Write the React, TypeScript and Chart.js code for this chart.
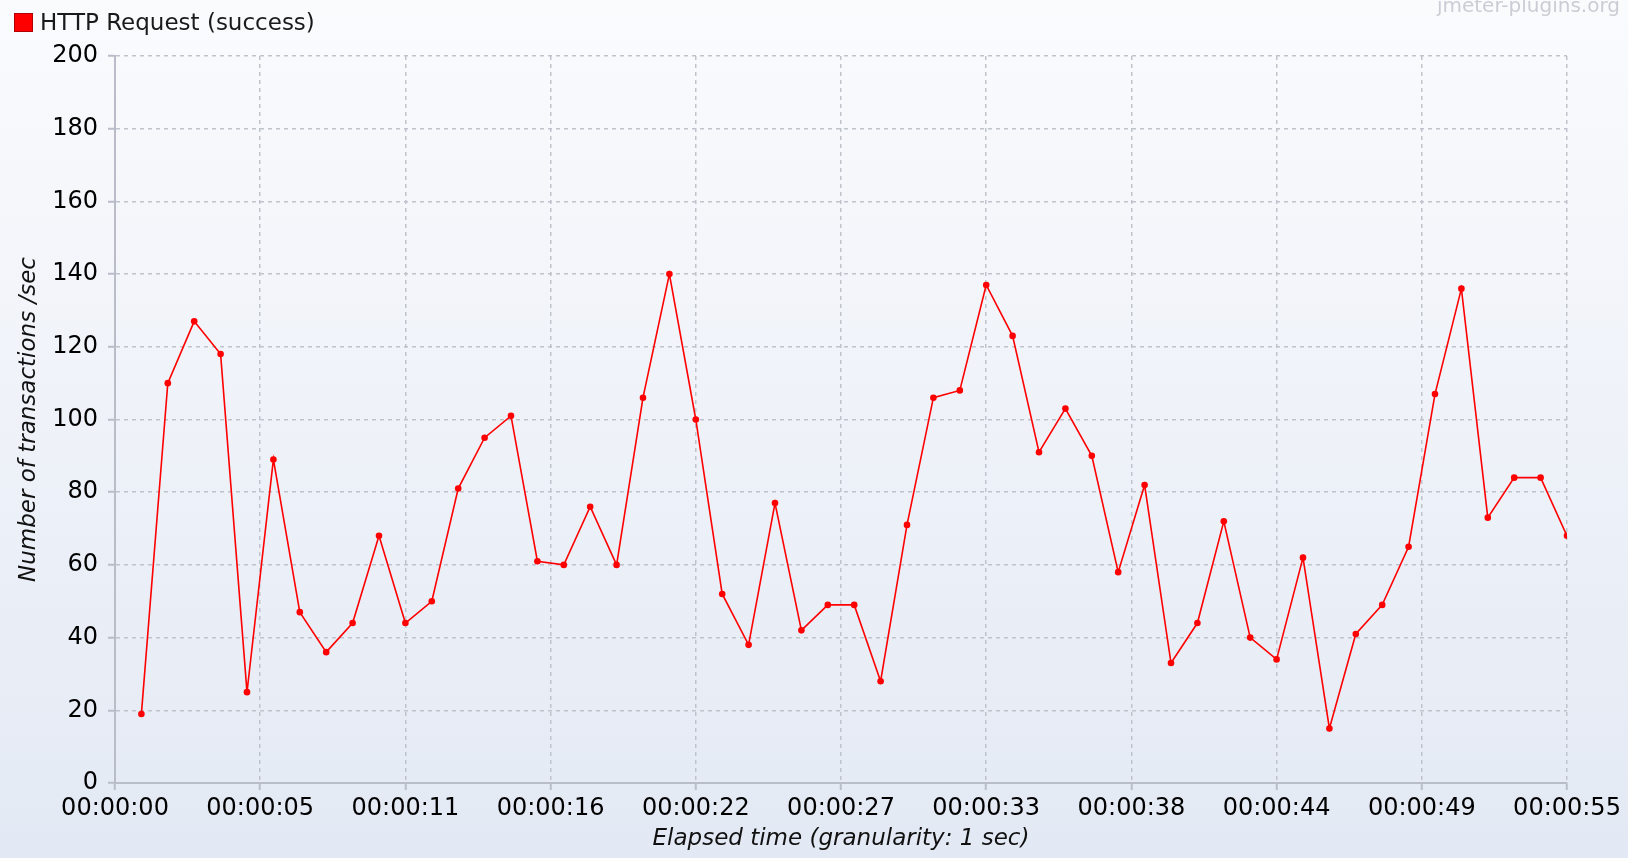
import React, { useEffect, useRef } from 'react';
import { Chart, registerables } from 'chart.js';

Chart.register(...registerables);

const SERIES_LABEL = 'HTTP Request (success)';
const X_TITLE = 'Elapsed time (granularity: 1 sec)';
const Y_TITLE = 'Number of transactions /sec';
const WATERMARK = 'jmeter-plugins.org';

const SECONDS = [
  1, 2, 3, 4, 5, 6, 7, 8, 9, 10, 11, 12, 13, 14, 15, 16, 17, 18, 19, 20,
  21, 22, 23, 24, 25, 26, 27, 28, 29, 30, 31, 32, 33, 34, 35, 36, 37, 38, 39, 40,
  41, 42, 43, 44, 45, 46, 47, 48, 49, 50, 51, 52, 53, 54, 55,
];

const TRANSACTIONS = [
  19, 110, 127, 118, 25, 89, 47, 36, 44, 68, 44, 50, 81, 95, 101, 61, 60, 76, 60, 106,
  140, 100, 52, 38, 77, 42, 49, 49, 28, 71, 106, 108, 137, 123, 91, 103, 90, 58, 82, 33,
  44, 72, 40, 34, 62, 15, 41, 49, 65, 107, 136, 73, 84, 84, 68,
];

const X_TICKS = [0, 5.5, 11, 16.5, 22, 27.5, 33, 38.5, 44, 49.5, 55];
const X_TICK_LABELS = [
  '00:00:00', '00:00:05', '00:00:11', '00:00:16', '00:00:22', '00:00:27',
  '00:00:33', '00:00:38', '00:00:44', '00:00:49', '00:00:55',
];

const FONT = '"DejaVu Sans", "Lucida Grande", sans-serif';
const AXIS_COLOR = '#b9bdc8';
const GRID_COLOR = '#bfc3cb';

export default function App() {
  const ref = useRef<HTMLCanvasElement>(null);

  useEffect(() => {
    const canvas = ref.current;
    if (!canvas) return;

    const bgPlugin = {
      id: 'bgGradient',
      beforeDraw(chart: any) {
        const { ctx, width, height } = chart;
        const g = ctx.createLinearGradient(0, 0, 0, height);
        g.addColorStop(0, '#fafbfd');
        g.addColorStop(1, '#e3e9f4');
        ctx.save();
        ctx.fillStyle = g;
        ctx.fillRect(0, 0, width, height);
        ctx.restore();
      },
    };

    const overlayPlugin = {
      id: 'overlay',
      afterDraw(chart: any) {
        const { ctx } = chart;
        ctx.save();
        // legend
        ctx.fillStyle = '#ff0000';
        ctx.fillRect(14, 13, 19, 19);
        ctx.strokeStyle = '#b00000';
        ctx.lineWidth = 1;
        ctx.strokeRect(14.5, 13.5, 18, 18);
        ctx.fillStyle = '#1a1a1a';
        ctx.font = `23px ${FONT}`;
        ctx.textAlign = 'left';
        ctx.textBaseline = 'alphabetic';
        ctx.fillText(SERIES_LABEL, 40, 30);
        // watermark
        ctx.fillStyle = '#cacdd4';
        ctx.font = `20px ${FONT}`;
        ctx.textAlign = 'right';
        ctx.fillText(WATERMARK, 1620, 12);
        ctx.restore();
      },
    };

    const chart = new Chart(canvas, {
      type: 'line',
      data: {
        datasets: [
          {
            label: SERIES_LABEL,
            data: SECONDS.map((s, i) => ({ x: s, y: TRANSACTIONS[i] })),
            borderColor: '#ff0000',
            backgroundColor: '#ff0000',
            borderWidth: 1.6,
            pointRadius: 3.3,
            pointBorderWidth: 0,
            pointBackgroundColor: '#ff0000',
            tension: 0,
            fill: false,
          },
        ],
      },
      options: {
        responsive: false,
        animation: false,
        layout: { padding: { top: 56, left: 0, right: 61, bottom: 0 } },
        plugins: {
          legend: { display: false },
          tooltip: { enabled: false },
        },
        scales: {
          x: {
            type: 'linear',
            min: 0,
            max: 55,
            afterBuildTicks: (scale: any) => {
              scale.ticks = X_TICKS.map((v) => ({ value: v }));
            },
            afterFit: (scale: any) => {
              scale.height = 75;
            },
            ticks: {
              autoSkip: false,
              maxRotation: 0,
              minRotation: 0,
              color: '#000000',
              font: { family: FONT, size: 24 },
              padding: 4,
              callback: (_v: any, i: number) => X_TICK_LABELS[i],
            },
            grid: {
              color: GRID_COLOR,
              lineWidth: 1.5,
              drawTicks: true,
              tickLength: 7,
              tickColor: AXIS_COLOR,
              tickWidth: 2,
              tickBorderDash: [],
            },
            border: { display: true, color: AXIS_COLOR, width: 2, dash: [4, 4] },
            title: {
              display: true,
              text: X_TITLE,
              color: '#111111',
              font: { family: FONT, size: 23, style: 'italic' },
              padding: { top: 0, bottom: 5 },
            },
          },
          y: {
            type: 'linear',
            min: 0,
            max: 200,
            afterFit: (scale: any) => {
              scale.width = 115;
            },
            ticks: {
              stepSize: 20,
              color: '#000000',
              font: { family: FONT, size: 24 },
              padding: 10,
            },
            grid: {
              color: GRID_COLOR,
              lineWidth: 1.5,
              drawTicks: true,
              tickLength: 7,
              tickColor: AXIS_COLOR,
              tickWidth: 2,
              tickBorderDash: [],
            },
            border: { display: true, color: AXIS_COLOR, width: 2, dash: [4, 4] },
            title: {
              display: true,
              text: Y_TITLE,
              color: '#111111',
              font: { family: FONT, size: 23, style: 'italic' },
              padding: { top: 15, bottom: 0 },
            },
          },
        },
      },
      plugins: [bgPlugin, overlayPlugin],
    } as any);

    return () => chart.destroy();
  }, []);

  return (
    <div style={{ position: 'fixed', left: 0, top: 0, width: 1628, height: 858 }}>
      <canvas ref={ref} width={1628} height={858} style={{ display: 'block' }} />
    </div>
  );
}
